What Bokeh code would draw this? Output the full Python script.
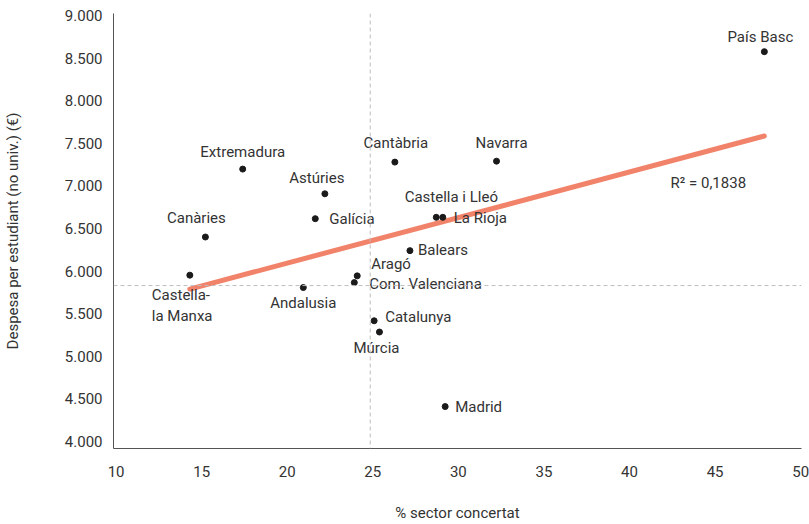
import numpy as np
from bokeh.plotting import figure
from bokeh.models import Range1d, FixedTicker, Span, ColumnDataSource, Label
from bokeh.core.properties import value
from bokeh.embed import file_html
from bokeh.resources import INLINE

# ---- data ----
regions = ["País Basc", "Extremadura", "Canàries", "Castella-\nla Manxa", "Astúries",
           "Galícia", "Cantàbria", "Navarra", "Castella i Lleó", "La Rioja", "Balears",
           "Aragó", "Com. Valenciana", "Andalusia", "Catalunya", "Múrcia", "Madrid"]
pct_concertat = [47.88, 17.40, 15.22, 14.31, 22.20, 21.64, 26.29, 32.23, 28.71,
                 29.09, 27.17, 24.09, 23.92, 20.94, 25.08, 25.39, 29.23]
despesa = [8575, 7197, 6400, 5952, 6907, 6615, 7279, 7290, 6631,
           6631, 6240, 5944, 5865, 5807, 5417, 5285, 4410]
ref_x = 24.85        # vertical reference (dashed)
ref_y = 5830         # horizontal reference (dashed)
r2_text = "R² = 0,1838"
r2_pos = (42.4, 7036)
x_ticks = [10, 15, 20, 25, 30, 35, 40, 45, 50]
y_ticks = [4000, 4500, 5000, 5500, 6000, 6500, 7000, 7500, 8000, 8500, 9000]
y_tick_labels = ["4.000", "4.500", "5.000", "5.500", "6.000", "6.500",
                 "7.000", "7.500", "8.000", "8.500", "9.000"]

# ---- label placement (screen pixel offsets, layout only) ----
label_dx = [-4, 0, -9, -38, -8, 14, 1, 5, 15, 11, 8, 14, 15, 0, 11, -3, 10]
label_dy = [-15, -17, -19, 30, -16, 0, -19, -18, -20, 1, -1, -12, 1, 15, -4, 16, 0]
label_align = ["center", "center", "center", "left", "center", "left", "center", "center",
               "center", "left", "left", "left", "left", "center", "left", "center", "left"]

FONT = value("Roboto")
TXT = "#333333"

p = figure(width=809, height=524, output_backend="svg", toolbar_location=None,
           x_range=Range1d(9.85, 50.05), y_range=Range1d(3918, 9023),
           min_border_left=113, min_border_right=8, min_border_top=13, min_border_bottom=75)
p.outline_line_color = None
p.xgrid.visible = False
p.ygrid.visible = False
p.background_fill_color = "white"
p.border_fill_color = "white"

# reference dashed lines
p.add_layout(Span(location=ref_x, dimension="height", line_color="#bdbdbd",
                  line_dash="4 3", line_width=1))
p.add_layout(Span(location=ref_y, dimension="width", line_color="#bdbdbd",
                  line_dash="4 3", line_width=1))

# trend line from least squares
xa = np.array(pct_concertat)
ya = np.array(despesa)
slope, intercept = np.polyfit(xa, ya, 1)
tx = np.array([xa.min(), xa.max()])
p.line(tx, slope * tx + intercept, line_color="#F2836B", line_width=5, line_cap="round")

src = ColumnDataSource(dict(x=pct_concertat, y=despesa, name=regions,
                            dx=label_dx, dy=label_dy, align=label_align))
p.scatter("x", "y", source=src, size=6, fill_color="#1a1a1a", line_color="#1a1a1a")
p.text("x", "y", text="name", source=src, x_offset="dx", y_offset="dy",
       text_align="align", text_baseline="middle", text_font=FONT,
       text_font_size="15px", text_color=TXT, text_line_height=1.15)

p.add_layout(Label(x=r2_pos[0], y=r2_pos[1], text=r2_text, text_align="left",
                   text_baseline="middle", text_font="Roboto", text_font_size="15px",
                   text_color=TXT))

# axes
for ax in (p.xaxis[0], p.yaxis[0]):
    ax.axis_line_color = "#555555"
    ax.axis_line_width = 1
    ax.major_tick_out = 0
    ax.major_tick_in = 0
    ax.minor_tick_out = 0
    ax.minor_tick_in = 0
    ax.major_label_text_font = "Roboto"
    ax.major_label_text_font_size = "15px"
    ax.major_label_text_color = TXT
    ax.axis_label_text_font = "Roboto"
    ax.axis_label_text_font_size = "15px"
    ax.axis_label_text_font_style = "normal"
    ax.axis_label_text_color = TXT

p.xaxis.ticker = FixedTicker(ticks=x_ticks)
p.xaxis.major_label_standoff = 17
p.xaxis.axis_label = "% sector concertat"
p.xaxis.axis_label_standoff = 24

p.yaxis.ticker = FixedTicker(ticks=y_ticks)
p.yaxis.major_label_overrides = {t: l for t, l in zip(y_ticks, y_tick_labels)}
p.yaxis.major_label_standoff = 11
p.yaxis.axis_label = "Despesa per estudiant (no univ.) (€)"
p.yaxis.axis_label_standoff = 40

open("out.html", "w").write(file_html(p, INLINE))
